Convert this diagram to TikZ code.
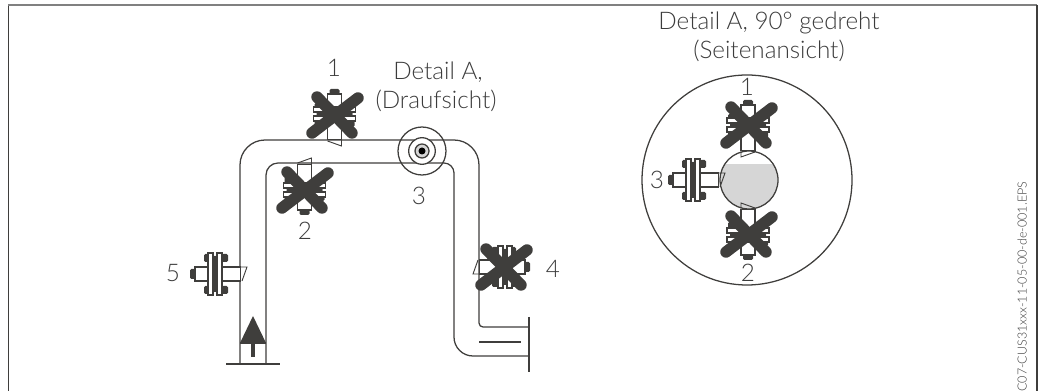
\documentclass[tikz,border=0pt]{standalone}
\usepackage{fontspec}
\setmainfont{Lato Light}
\usepackage{tikz}
\definecolor{inkgray}{HTML}{3F3E3C}
\definecolor{textgray}{HTML}{3C3C3C}
\definecolor{fillgray}{HTML}{D6D6D6}
\tikzset{
  pipeline/.style={draw=inkgray, line width=0.95pt},
  partbox/.style={draw=inkgray, line width=0.95pt, fill=white},
  darkpart/.style={fill=inkgray, rounded corners=1pt},
  crossbar/.style={draw=inkgray, line width=8.6pt, line cap=round},
  lbl/.style={text=textgray, font=\fontsize{18.2}{21.75}\selectfont, inner sep=0pt, align=center},
}
\newcommand{\sensorpart}[4]{%
  \begin{scope}[shift={(#1,#2)}, rotate=#3, yscale=#4]
    \draw[pipeline, line width=0.7pt] (-6.5,-7) -- (0,-7) -- (-5,7);
    \draw[partbox] (-6.5,-7) rectangle (-25,7);
    \draw[partbox] (-39,-7) rectangle (-52,7);
    \fill[darkpart] (-52,-5) rectangle (-57,5);
    \fill[darkpart] (-34,-18) rectangle (-30,18);
    \foreach \sgn in {-1,1} {
      \fill[darkpart] (-43,12*\sgn) rectangle (-39,20*\sgn);
      \fill[darkpart] (-25,12*\sgn) rectangle (-19,20*\sgn);
    }
    \draw[partbox] (-39,-21) rectangle (-34,21);
    \draw[partbox] (-30,-21) rectangle (-25,21);
  \end{scope}
}
\newcommand{\crossmark}[2]{%
  \draw[crossbar] (#1-18,#2-18) -- (#1+17,#2+18);
  \draw[crossbar] (#1+23,#2-17) -- (#1-23,#2+18);
}
\begin{document}
\begin{tikzpicture}[x=0.75pt, y=-0.75pt]
  \useasboundingbox (0,0) rectangle (1045,391);
  \draw[draw=inkgray, line width=1pt] (8.5,391) -- (8.5,5.5);
  \draw[draw=gray, line width=1.5pt] (8,5.5) -- (1037,5.5);
  \draw[draw=inkgray, line width=1pt] (1037,5) -- (1037,391);

  \draw[pipeline] (240,364) -- (240,165) arc[start angle=180, end angle=270, radius=25]
    -- (454,140) arc[start angle=270, end angle=360, radius=25]
    -- (479,323) arc[start angle=180, end angle=90, radius=4] -- (529,327);
  \draw[pipeline] (266,364) -- (266,175) arc[start angle=180, end angle=270, radius=12]
    -- (444,163) arc[start angle=270, end angle=360, radius=10]
    -- (454,337) arc[start angle=180, end angle=90, radius=19] -- (529,356);
  \draw[pipeline] (226,364) -- (280,364);
  \draw[pipeline] (240,343) -- (266,343);
  \draw[pipeline] (479,342) -- (521,342);
  \draw[draw=inkgray, line width=1.4pt] (529,317) -- (529,372);
  \fill[inkgray] (253,316) -- (266,343) -- (240,343) -- cycle;
  \fill[inkgray] (251,343) rectangle (255,357);

  \draw[pipeline] (422,151) circle[radius=24];
  \draw[partbox] (422,151) circle[radius=13.3];
  \draw[pipeline, fill=fillgray] (422,151) circle[radius=7];
  \fill[black] (422,151) circle[radius=3.5];

  \sensorpart{334.5}{146}{-90}{1}
  \sensorpart{304.5}{158}{90}{-1}
  \sensorpart{247}{274}{0}{1}
  \sensorpart{473}{267}{180}{1}
  \crossmark{335}{115}
  \crossmark{305}{190}
  \crossmark{504}{267}

  \draw[pipeline] (747,180) circle[radius=105];
  \begin{scope}
    \clip (749,180) circle[radius=29];
    \fill[fillgray] (715,164) rectangle (785,215);
  \end{scope}
  \draw[pipeline] (749,180) circle[radius=29];
  \sensorpart{748}{157}{-90}{-1}
  \sensorpart{748}{203}{90}{1}
  \sensorpart{725}{180}{0}{1}
  \crossmark{749}{125}
  \crossmark{749}{234}

  \node[lbl] (numA) at (334,68) {1};
  \node[lbl] (numB) at (305,231) {2};
  \node[lbl] (numC) at (419,196) {3};
  \node[lbl] (numD) at (553,269) {4};
  \node[lbl] (numE) at (173,273) {5};
  \node[lbl] (topview) at (436,87) {\hspace*{3pt}Detail A,\\(Draufsicht)};
  \node[lbl] (sideview) at (769,37) {Detail A, 90° gedreht\\(Seitenansicht)};
  \node[lbl] (sideA) at (747,87) {1};
  \node[lbl] (sideB) at (748,273) {2};
  \node[lbl] (sideC) at (657,180) {3};
  \node[lbl, font=\fontsize{9.4}{10}\selectfont, rotate=90, anchor=west] (filecode) at (1022,392) {C07-CUS31xxx-11-05-00-de-001.EPS};
\end{tikzpicture}
\end{document}
